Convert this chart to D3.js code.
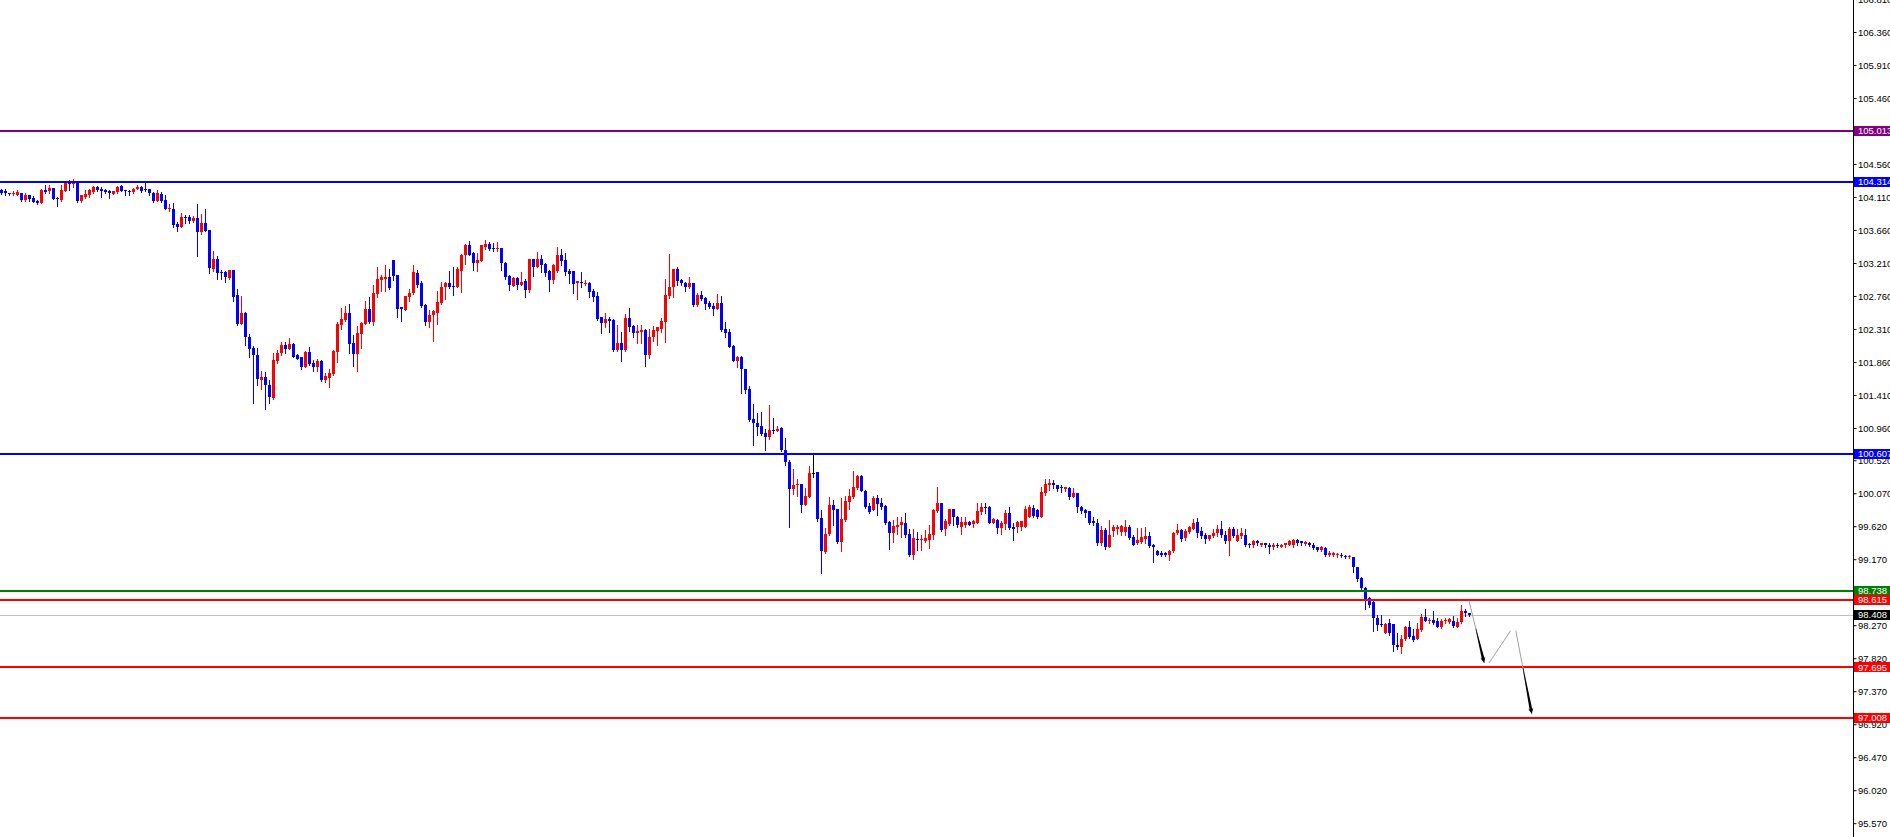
<!DOCTYPE html>
<html><head><meta charset="utf-8">
<script src="https://cdn.jsdelivr.net/npm/d3@7"></script>
<style>html,body{margin:0;padding:0;background:#fff;overflow:hidden}svg{display:block}</style>
</head><body><svg id="c" width="1890" height="837"></svg>
<script>
// ---------------- DATA ----------------
const opens = [
104.205,104.196,104.164,104.150,104.141,104.164,104.068,104.132,104.096,104.059,
104.032,104.205,104.187,104.232,104.096,104.068,104.196,104.323,104.287,104.314,
104.059,104.114,104.141,104.178,104.241,104.214,104.205,104.196,104.150,104.178,
104.259,104.205,104.196,104.178,104.223,104.250,104.223,104.223,104.168,104.059,
104.150,104.068,103.950,103.950,103.741,103.705,103.841,103.841,103.777,103.823,
103.632,103.759,103.659,103.123,103.268,103.087,103.087,103.005,103.114,102.768,
102.378,102.533,102.205,102.051,101.960,101.614,101.660,101.551,101.369,101.878,
101.978,102.096,102.042,102.105,101.951,101.924,101.796,101.996,101.851,101.796,
101.878,101.614,101.642,101.696,101.996,102.369,102.433,102.533,102.124,101.969,
102.242,102.378,102.587,102.405,102.787,102.978,102.996,103.014,103.251,103.051,
102.605,102.569,102.751,102.796,103.078,102.933,102.642,102.405,102.496,102.533,
102.669,102.878,102.942,102.896,102.887,103.105,103.314,103.460,103.342,103.215,
103.242,103.433,103.469,103.414,103.405,103.414,103.215,103.033,102.896,103.005,
102.914,102.969,102.842,103.260,103.160,103.260,103.196,103.096,102.978,103.096,
103.324,103.251,103.105,103.096,102.933,102.951,102.924,102.942,102.833,102.760,
102.469,102.387,102.451,102.433,102.024,102.115,102.024,102.460,102.351,102.260,
102.269,102.296,101.960,102.196,102.287,102.315,102.405,102.760,102.878,103.124,
102.978,102.942,102.878,102.942,102.633,102.769,102.733,102.660,102.624,102.587,
102.669,102.315,102.269,102.078,101.878,101.933,101.760,101.496,101.087,101.033,
100.987,100.896,100.842,100.933,100.924,100.960,100.660,100.496,100.133,100.178,
100.196,99.915,100.024,100.342,100.360,99.733,99.269,99.515,99.906,99.860,
99.406,99.706,99.951,100.024,100.142,100.306,100.105,99.896,99.842,100.006,
99.933,99.896,99.678,99.524,99.615,99.632,99.668,99.514,99.223,99.450,
99.432,99.423,99.432,99.496,99.832,99.932,99.578,99.650,99.859,99.750,
99.614,99.641,99.678,99.650,99.668,99.814,99.887,99.887,99.668,99.705,
99.596,99.650,99.796,99.614,99.614,99.614,99.614,99.750,99.868,99.841,
99.750,100.068,100.187,100.214,100.178,100.150,100.132,100.141,100.023,100.068,
99.887,99.841,99.823,99.687,99.668,99.396,99.568,99.341,99.559,99.587,
99.541,99.541,99.614,99.478,99.396,99.405,99.450,99.487,99.359,99.278,
99.259,99.259,99.232,99.278,99.532,99.568,99.459,99.541,99.587,99.678,
99.559,99.496,99.441,99.487,99.532,99.578,99.505,99.414,99.578,99.423,
99.487,99.496,99.377,99.359,99.414,99.368,99.387,99.368,99.332,99.368,
99.341,99.359,99.368,99.368,99.432,99.414,99.377,99.396,99.359,99.332,
99.296,99.323,99.232,99.223,99.223,99.232,99.214,99.196,99.196,99.059,
98.914,98.778,98.641,98.587,98.368,98.287,98.168,98.296,98.287,98.005,
97.978,98.078,98.250,98.123,98.087,98.205,98.387,98.323,98.341,98.323,
98.250,98.323,98.314,98.332,98.250,98.314,98.468,98.432];

const highs = [
104.223,104.223,104.168,104.187,104.205,104.168,104.159,104.141,104.123,104.068,
104.214,104.268,104.268,104.232,104.105,104.268,104.332,104.341,104.350,104.332,
104.141,104.205,104.223,104.259,104.259,104.241,104.223,104.205,104.196,104.259,
104.268,104.205,104.205,104.232,104.268,104.259,104.296,104.223,104.178,104.205,
104.178,104.132,104.014,104.032,103.768,103.887,103.859,103.868,103.850,104.014,
103.877,103.950,103.659,103.377,103.305,103.114,103.096,103.114,103.114,102.859,
102.760,102.542,102.242,102.078,102.051,101.733,101.724,101.614,101.987,102.024,
102.133,102.133,102.187,102.114,101.969,101.933,102.005,102.069,101.887,101.896,
101.887,101.705,101.769,102.024,102.405,102.596,102.624,102.651,102.224,102.351,
102.405,102.696,102.751,102.915,103.160,103.051,103.178,103.124,103.251,103.051,
102.614,102.760,102.860,103.187,103.114,102.960,102.651,102.569,102.569,102.833,
102.951,102.951,103.105,103.151,103.160,103.333,103.469,103.505,103.360,103.342,
103.460,103.524,103.496,103.487,103.496,103.414,103.224,103.042,103.014,103.014,
103.087,102.996,103.269,103.269,103.360,103.315,103.205,103.114,103.196,103.424,
103.396,103.342,103.124,103.105,102.960,103.087,102.978,102.951,102.851,102.815,
102.469,102.524,102.469,102.442,102.369,102.269,102.515,102.596,102.369,102.360,
102.360,102.305,102.305,102.351,102.342,102.460,102.987,103.333,103.133,103.160,
102.996,102.951,103.015,102.942,102.805,102.833,102.751,102.696,102.660,102.787,
102.760,102.405,102.315,102.096,101.942,101.942,101.760,101.533,101.288,101.160,
101.178,100.942,101.278,101.096,100.987,100.978,100.824,100.524,100.405,100.269,
100.196,100.142,100.442,100.615,100.360,99.842,99.596,100.024,99.978,99.860,
100.006,100.033,100.133,100.378,100.324,100.315,100.115,99.942,100.033,100.042,
100.006,99.906,99.697,99.706,99.751,99.741,99.796,99.587,99.587,99.541,
99.496,99.568,99.641,99.850,100.159,99.932,99.714,99.859,99.859,99.759,
99.750,99.741,99.687,99.705,99.941,99.941,99.941,99.896,99.732,99.723,
99.687,99.841,99.887,99.668,99.696,99.696,99.896,99.914,99.914,99.859,
100.150,100.259,100.268,100.250,100.187,100.187,100.150,100.150,100.141,100.068,
99.896,99.859,99.832,99.750,99.714,99.623,99.596,99.705,99.641,99.632,
99.641,99.705,99.632,99.496,99.596,99.596,99.605,99.541,99.377,99.296,
99.287,99.268,99.296,99.541,99.650,99.577,99.577,99.623,99.723,99.732,
99.605,99.523,99.505,99.587,99.632,99.687,99.550,99.614,99.614,99.578,
99.596,99.578,99.387,99.432,99.432,99.396,99.396,99.387,99.387,99.387,
99.377,99.396,99.432,99.441,99.450,99.423,99.414,99.405,99.387,99.341,
99.350,99.332,99.278,99.268,99.259,99.250,99.232,99.232,99.205,99.059,
98.923,98.787,98.659,98.596,98.405,98.414,98.305,98.350,98.287,98.159,
98.141,98.259,98.323,98.214,98.296,98.423,98.487,98.368,98.468,98.368,
98.350,98.368,98.368,98.396,98.368,98.541,98.487,98.441];

const lows = [
104.150,104.141,104.141,104.141,104.132,104.059,104.059,104.059,104.041,104.014,
104.032,104.159,104.159,104.078,103.987,104.059,104.187,104.205,104.250,104.041,
104.041,104.096,104.114,104.159,104.196,104.114,104.168,104.096,104.150,104.168,
104.187,104.132,104.141,104.168,104.214,104.178,104.187,104.141,104.041,104.050,
104.041,103.950,103.914,103.705,103.650,103.696,103.759,103.759,103.768,103.305,
103.605,103.641,103.077,103.105,102.996,102.996,102.950,102.996,102.696,102.368,
102.378,102.096,101.924,101.296,101.542,101.487,101.224,101.296,101.360,101.842,
101.960,101.978,102.042,101.924,101.896,101.760,101.796,101.814,101.742,101.742,
101.596,101.587,101.514,101.687,101.860,102.315,102.424,101.978,101.805,101.742,
102.051,102.378,102.396,102.360,102.751,102.833,102.833,102.851,102.978,102.478,
102.424,102.569,102.696,102.787,102.887,102.605,102.360,102.342,102.151,102.378,
102.651,102.715,102.869,102.778,102.878,102.815,103.196,103.314,103.114,103.105,
103.233,103.405,103.387,103.378,103.378,103.114,102.996,102.842,102.896,102.860,
102.905,102.751,102.815,103.033,103.160,103.087,103.033,102.833,102.942,103.087,
103.187,103.051,102.942,102.805,102.724,102.887,102.905,102.751,102.687,102.433,
102.260,102.333,102.269,102.015,102.015,101.878,102.015,102.287,102.205,102.124,
102.115,101.805,101.915,102.151,102.096,102.269,102.133,102.733,102.751,102.905,
102.915,102.824,102.869,102.624,102.624,102.705,102.587,102.596,102.505,102.587,
102.278,102.196,102.069,101.869,101.796,101.442,101.442,101.051,100.724,100.869,
100.869,100.660,100.805,100.896,100.915,100.651,100.460,99.615,100.060,100.033,
99.815,99.905,100.015,100.296,99.696,98.978,99.251,99.506,99.642,99.388,
99.287,99.697,99.851,100.006,100.133,100.096,99.869,99.796,99.842,99.769,
99.860,99.651,99.315,99.406,99.515,99.468,99.478,99.214,99.178,99.296,
99.296,99.405,99.323,99.450,99.814,99.559,99.496,99.641,99.632,99.614,
99.514,99.614,99.632,99.605,99.659,99.787,99.796,99.659,99.659,99.523,
99.514,99.587,99.587,99.432,99.541,99.568,99.605,99.741,99.750,99.732,
99.741,100.050,100.114,100.141,100.105,100.087,100.105,99.987,100.014,99.814,
99.796,99.750,99.650,99.641,99.359,99.359,99.314,99.332,99.487,99.514,
99.505,99.496,99.441,99.359,99.377,99.387,99.387,99.332,99.132,99.223,
99.214,99.214,99.159,99.268,99.514,99.423,99.432,99.532,99.578,99.478,
99.459,99.387,99.432,99.468,99.487,99.478,99.396,99.232,99.468,99.414,
99.459,99.350,99.332,99.332,99.359,99.350,99.341,99.259,99.314,99.332,
99.332,99.341,99.359,99.332,99.359,99.368,99.368,99.350,99.305,99.278,
99.287,99.214,99.214,99.214,99.205,99.196,99.187,99.187,98.996,98.878,
98.759,98.496,98.523,98.196,98.205,98.259,98.159,98.132,97.923,97.950,
97.887,98.068,98.096,98.059,98.078,98.196,98.323,98.296,98.287,98.241,
98.232,98.305,98.296,98.241,98.241,98.305,98.396,98.396];

const closes = [
104.168,104.159,104.146,104.168,104.178,104.068,104.141,104.087,104.041,104.032,
104.205,104.178,104.232,104.087,104.078,104.205,104.314,104.287,104.323,104.059,
104.132,104.150,104.205,104.250,104.205,104.196,104.178,104.159,104.187,104.241,
104.196,104.196,104.187,104.223,104.250,104.196,104.214,104.159,104.059,104.159,
104.050,103.950,103.959,103.723,103.705,103.832,103.832,103.787,103.823,103.632,
103.750,103.650,103.141,103.259,103.077,103.077,103.014,103.114,102.750,102.377,
102.533,102.196,102.042,101.951,101.624,101.660,101.542,101.378,101.887,101.978,
102.096,102.042,102.105,101.933,101.905,101.796,101.996,101.833,101.796,101.878,
101.614,101.669,101.714,102.014,102.378,102.451,102.533,102.105,101.969,102.260,
102.396,102.587,102.405,102.806,102.996,103.014,103.024,102.869,103.033,102.587,
102.578,102.760,102.806,103.087,102.914,102.624,102.405,102.505,102.551,102.678,
102.887,102.942,102.878,102.887,103.124,103.324,103.460,103.324,103.215,103.251,
103.451,103.469,103.405,103.405,103.414,103.205,103.024,102.914,103.005,102.914,
102.951,102.842,103.260,103.160,103.260,103.178,103.078,102.978,103.178,103.315,
103.242,103.087,103.060,102.924,102.960,102.933,102.942,102.815,102.751,102.451,
102.387,102.442,102.424,102.024,102.115,102.024,102.460,102.333,102.260,102.287,
102.296,101.960,102.205,102.296,102.333,102.424,102.778,102.887,103.124,102.969,
102.933,102.878,102.942,102.633,102.769,102.724,102.651,102.615,102.587,102.660,
102.296,102.260,102.069,101.878,101.933,101.760,101.478,101.069,101.024,100.978,
100.878,100.842,100.933,100.915,100.942,100.660,100.496,100.133,100.178,100.196,
99.915,100.033,100.342,100.342,99.724,99.287,99.515,99.906,99.842,99.406,
99.715,99.960,100.033,100.151,100.306,100.096,99.887,99.815,100.006,99.924,
99.887,99.669,99.524,99.624,99.642,99.678,99.496,99.223,99.459,99.432,
99.450,99.459,99.514,99.841,99.932,99.568,99.696,99.859,99.741,99.641,
99.678,99.678,99.641,99.696,99.823,99.887,99.878,99.668,99.723,99.596,
99.659,99.796,99.596,99.587,99.678,99.687,99.859,99.887,99.759,99.741,
100.087,100.196,100.214,100.178,100.132,100.141,100.150,100.023,100.068,99.877,
99.832,99.796,99.668,99.659,99.396,99.568,99.332,99.496,99.605,99.614,
99.623,99.614,99.459,99.368,99.432,99.468,99.487,99.350,99.332,99.232,
99.232,99.232,99.287,99.532,99.568,99.450,99.550,99.605,99.659,99.523,
99.487,99.441,99.496,99.532,99.578,99.496,99.414,99.578,99.487,99.505,
99.523,99.359,99.359,99.414,99.387,99.387,99.359,99.332,99.368,99.350,
99.359,99.387,99.414,99.432,99.387,99.387,99.405,99.368,99.323,99.296,
99.332,99.223,99.259,99.250,99.241,99.214,99.205,99.214,99.068,98.905,
98.778,98.614,98.541,98.368,98.278,98.268,98.287,98.159,98.005,97.968,
98.078,98.250,98.114,98.068,98.214,98.387,98.332,98.341,98.296,98.250,
98.332,98.341,98.359,98.259,98.314,98.459,98.432,98.408];

// price-scale tick labels (as printed on the right scale)
const tickLabels = ["106.810","106.360","105.910","105.460","104.560","104.110","103.660",
  "103.210","102.760","102.310","101.860","101.410","100.960","100.520","100.070","99.620",
  "99.170","98.270","97.820","97.370","96.920","96.470","96.020","95.570"];

// horizontal price levels
const levelValues = [105.013, 104.314, 100.607, 98.738, 98.615, 97.695, 97.008];
const levelNames  = ["purple", "blue", "blue", "green", "red", "red", "red"];
const bidPrice = 98.408;

// projected path (bar index, price)
const arrowFrom  = [[367.0, 98.605], [372.0, 97.755], [378.7, 98.195]];
const arrowTo    = [[370.8, 97.755], [377.4, 98.195], [382.7, 97.060]];
const arrowHead  = [true, false, true];

// ---------------- STYLE ----------------
const W = 1890, H = 837, AXIS_X = 1853;
const colorOf = {purple: "#800080", blue: "#0000ff", green: "#008000", red: "#ff0000"};
const BULL = "#ff0000", BEAR = "#0000ff", DOJI = "#000000";
const FONT = "Tahoma, 'Liberation Sans', Arial, sans-serif";

const svg = d3.select("#c");
const y = d3.scaleLinear().domain([95.382, 106.796]).range([H, 0]);
const x = d3.scaleLinear().domain([0, 367]).range([1, 1469]);

const n = Math.min(opens.length, highs.length, lows.length, closes.length);
const bars = d3.range(n).map(i => ({i, o: opens[i], h: highs[i], l: lows[i], c: closes[i]}));

const plot = svg.append("g").attr("shape-rendering", "crispEdges");

// current bid line (behind)
plot.append("line")
  .attr("x1", 0).attr("x2", AXIS_X)
  .attr("y1", Math.round(y(bidPrice)) + 0.5).attr("y2", Math.round(y(bidPrice)) + 0.5)
  .attr("stroke", "#c0c0c0").attr("stroke-width", 1);

const colorBar = d => d.c > d.o ? BULL : (d.c < d.o ? BEAR : DOJI);

// wicks
plot.selectAll("line.wick").data(bars).join("line").attr("class", "wick")
  .attr("x1", d => Math.round(x(d.i)) + 0.5).attr("x2", d => Math.round(x(d.i)) + 0.5)
  .attr("y1", d => Math.round(y(d.h))).attr("y2", d => Math.round(y(d.l)) + 1)
  .attr("stroke", colorBar).attr("stroke-width", 1);

// bodies
plot.selectAll("rect.body").data(bars).join("rect").attr("class", "body")
  .attr("x", d => Math.round(x(d.i)) - 1)
  .attr("width", 3)
  .attr("y", d => Math.round(y(Math.max(d.o, d.c))))
  .attr("height", d => Math.max(1, Math.round(y(Math.min(d.o, d.c))) - Math.round(y(Math.max(d.o, d.c)))))
  .attr("fill", colorBar);

// level lines
plot.selectAll("line.level").data(levelValues).join("line").attr("class", "level")
  .attr("x1", 0).attr("x2", AXIS_X)
  .attr("y1", d => Math.round(y(d)) - 1).attr("y2", d => Math.round(y(d)) - 1)
  .attr("transform", "translate(0,1)")
  .attr("stroke", (d, i) => colorOf[levelNames[i]]).attr("stroke-width", 2);

// projected arrows
const ag = svg.append("g");
arrowFrom.forEach((f, k) => {
  const t = arrowTo[k];
  const x1 = x(f[0]), y1 = y(f[1]), x2 = x(t[0]), y2 = y(t[1]);
  ag.append("line").attr("x1", x1).attr("y1", y1).attr("x2", x2).attr("y2", y2)
    .attr("stroke", "#a0a0a0").attr("stroke-width", 1);
  if (arrowHead[k]) {
    const dx = x2 - x1, dy = y2 - y1, len = Math.hypot(dx, dy);
    const ux = dx / len, uy = dy / len, px = -uy, py = ux;
    const sx = x1 + dx * 0.45, sy = y1 + dy * 0.45;
    // tapered black shaft
    const wS = 0.3, wE = 1.4;
    ag.append("path")
      .attr("d", `M${sx + px * wS},${sy + py * wS} L${x2 - ux * 3 + px * wE},${y2 - uy * 3 + py * wE} L${x2 - ux * 3 - px * wE},${y2 - uy * 3 - py * wE} L${sx - px * wS},${sy - py * wS} Z`)
      .attr("fill", "#000");
    // arrow head
    const hl = 6, hw = 2.6;
    ag.append("path")
      .attr("d", `M${x2},${y2} L${x2 - ux * hl + px * hw},${y2 - uy * hl + py * hw} L${x2 - ux * hl * 0.6},${y2 - uy * hl * 0.6} L${x2 - ux * hl - px * hw},${y2 - uy * hl - py * hw} Z`)
      .attr("fill", "#000");
  }
});

// right price axis
const axis = d3.axisRight(y)
  .tickValues(tickLabels.map(Number))
  .tickFormat((d, i) => tickLabels[i])
  .tickSize(3).tickSizeOuter(0).tickPadding(2);
const ax = svg.append("g").attr("transform", `translate(${AXIS_X + 0.5},0)`).call(axis);
ax.select(".domain").attr("stroke", "#000").attr("d", `M0,0V${H}`);
ax.selectAll(".tick line").attr("stroke", "#000");
ax.selectAll(".tick text").attr("fill", "#000").attr("font-family", FONT).attr("font-size", "9.5px")
  .attr("x", 4.5).attr("dy", "0.34em");

// price boxes on the scale
const boxes = levelValues.map((v, i) => ({v, bg: colorOf[levelNames[i]]}))
  .concat([{v: bidPrice, bg: "#000000"}]);
const bg = svg.append("g");
bg.selectAll("rect").data(boxes).join("rect")
  .attr("x", AXIS_X + 1).attr("width", W - AXIS_X)
  .attr("y", d => Math.round(y(d.v)) - 5).attr("height", 10)
  .attr("fill", d => d.bg).attr("shape-rendering", "crispEdges");
bg.selectAll("text").data(boxes).join("text")
  .attr("x", AXIS_X + 5).attr("y", d => y(d.v)).attr("dy", "0.35em")
  .attr("fill", "#fff").attr("font-family", FONT).attr("font-size", "9.5px")
  .text(d => d.v.toFixed(3));
</script>
</body></html>
